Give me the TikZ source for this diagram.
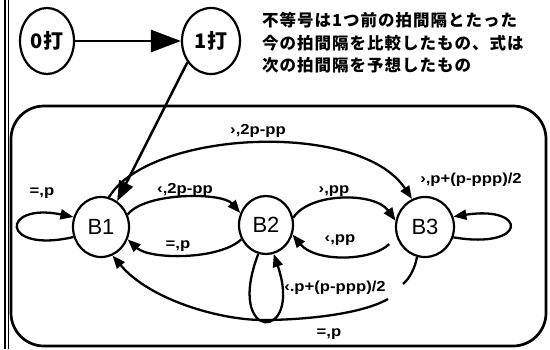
\documentclass[tikz,border=0pt]{standalone}
\usepackage{fontspec}
\setmainfont{Liberation Sans}
\newfontfamily\jp{Noto Sans CJK JP}
\newfontfamily\jpt[LetterSpace=6]{Noto Sans CJK JP}
\newfontfamily\lbl[FakeStretch=1.15]{Liberation Sans}
\usetikzlibrary{arrows.meta,shapes.geometric}
\begin{document}
\begin{tikzpicture}[x=1pt,y=-1pt,
  state/.style={draw, ellipse, line width=2.2pt, inner sep=0pt, font=\fontsize{22}{22}\selectfont},
  topstate/.style={draw, ellipse, line width=2.2pt, inner sep=0pt, minimum height=66pt, font=\jp\bfseries\fontsize{20}{20}\selectfont},
  edge/.style={line width=2.3pt, -{Triangle[length=13pt,width=10pt]}},
  lab/.style={font=\lbl\bfseries\fontsize{14.5}{15}\selectfont, inner sep=1pt},
  jt/.style={font=\jpt\bfseries\fontsize{16.5}{16.5}\selectfont, inner sep=0pt, anchor=west}]
\useasboundingbox (0,0) rectangle (550,349);
% frame
\draw[line width=1.3pt] (5,0) -- (5,349);
\draw[line width=1.3pt] (8.5,0) -- (8.5,349);
\draw[line width=2.7pt, rounded corners=33pt] (11,106) rectangle (546,346);
% top nodes
\node[topstate, minimum width=54pt] (n0) at (47,41) {0打};
\node[topstate, minimum width=58pt] (n1) at (211,41) {1打};
\draw[line width=2.8pt, -{Triangle[length=30pt,width=22pt]}] (n0) -- (n1);
% text
\node[jt] (t1) at (262,20) {不等号は1つ前の拍間隔とたった};
\node[jt] (t2) at (262,43) {今の拍間隔を比較したもの、式は};
\node[jt] (t3) at (262,65) {次の拍間隔を予想したもの};
% states
\node[state, minimum width=56pt, minimum height=60pt] (b1) at (101,227) {B1};
\node[state, minimum width=54pt, minimum height=58pt] (b2) at (266,225) {B2};
\node[state, minimum width=58pt, minimum height=60pt] (b3) at (425,227) {B3};
\draw[line width=2.5pt, -{Triangle[length=20pt,width=15pt]}] (n1.-138) -- (b1.58);
% arcs
\draw[edge] (b1.75) .. controls (150,130) and (360,120) .. (b3.115);
\draw[edge] (b1.25) .. controls (145,192) and (222,192) .. (b2.155);
\draw[edge] (b2.210) .. controls (220,260) and (150,260) .. (b1.-25);
\draw[edge] (b2.15) .. controls (310,192) and (375,192) .. (b3.168);
\draw[edge, shorten <=10pt] (b3.200) .. controls (370,262) and (315,262) .. (b2.-20);
% loops
\draw[edge] (b1.200) .. controls (0,254) and (0,202) .. (b1.160);
\draw[edge] (b3.-20) .. controls (528,250) and (528,205) .. (b3.20);
\draw[edge] (b2.-105) .. controls (224,343) and (304,343) .. (b2.-75);
% big lower curve
\coordinate (ga) at (403,284);
\coordinate (gb) at (388,299);
\coordinate (gm) at (263,320);
\draw[edge] (b3.-105) .. controls (415,268) and (410,278) .. (ga)
  (gb) .. controls (360,315) and (300,320) .. (gm)
  .. controls (220,320) and (150,300) .. (b1.-68);
% labels
\node[lab] (l1) at (258,131) {›,2p-pp};
\node[lab] (l2) at (185,190) {‹,2p-pp};
\node[lab] (l3) at (334,191) {›,pp};
\node[lab] (l4) at (471,180) {›,p+(p-ppp)/2};
\node[lab] (l5) at (42,193) {=,p};
\node[lab] (l6) at (178,246) {=,p};
\node[lab] (l7) at (340,240) {‹,pp};
\node[lab] (l8) at (335,288) {‹.p+(p-ppp)/2};
\node[lab] (l9) at (329,334) {=,p};
\end{tikzpicture}
\end{document}
